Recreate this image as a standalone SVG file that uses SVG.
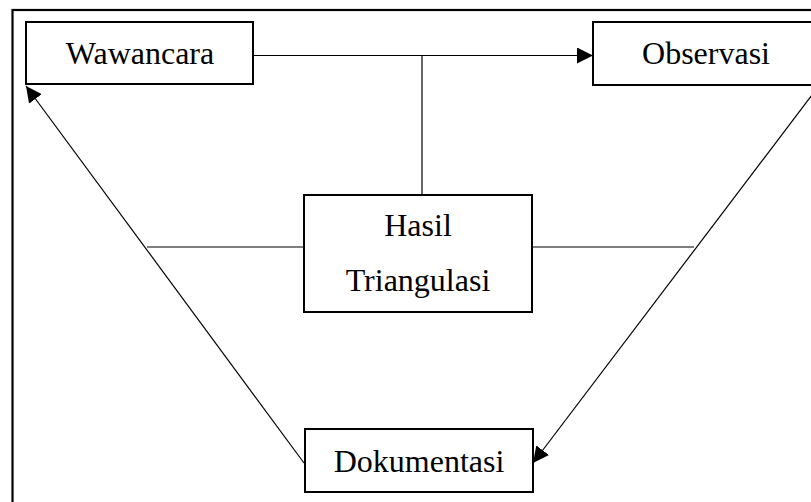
<svg xmlns="http://www.w3.org/2000/svg" width="811" height="502" viewBox="0 0 811 502">
  <defs>
    <style>
      .frame { fill: none; stroke: #000; stroke-width: 2.2; }
      .box { fill: #fff; stroke: #000; stroke-width: 2; }
      .line { fill: none; stroke: #000; stroke-width: 1.2; }
      .label { font-family: "Liberation Serif", "Times New Roman", serif; font-size: 32px; fill: #000; text-anchor: middle; }
    </style>
    <marker id="arrow" viewBox="0 0 16 16" refX="16" refY="8" markerWidth="16" markerHeight="16" markerUnits="userSpaceOnUse" orient="auto">
      <path d="M0,0 L16,8 L0,16 Z" fill="#000"/>
    </marker>
  </defs>
  <rect width="811" height="502" fill="#fff"/>
  <!-- outer border (only top and left edges fall inside the canvas) -->
  <rect class="frame" x="12.5" y="10" width="820" height="520"/>

  <g id="connectors">
    <line class="line" x1="253" y1="55.5" x2="593" y2="55.5" marker-end="url(#arrow)"/>
    <line class="line" x1="422" y1="55.5" x2="422" y2="195"/>
    <line class="line" x1="147" y1="247" x2="304" y2="247"/>
    <line class="line" x1="532" y1="247" x2="694" y2="247"/>
    <line class="line" x1="812" y1="95" x2="533" y2="463" marker-end="url(#arrow)"/>
    <line class="line" x1="304" y1="463" x2="26" y2="86" marker-end="url(#arrow)"/>
  </g>

  <g id="wawancara">
    <rect class="box" x="26" y="22" width="227" height="62"/>
    <text class="label" x="140" y="64">Wawancara</text>
  </g>
  <g id="observasi">
    <rect class="box" x="593" y="22" width="230" height="63"/>
    <text class="label" x="706" y="64">Observasi</text>
  </g>
  <g id="hasil-triangulasi">
    <rect class="box" x="304" y="195" width="228" height="117"/>
    <text class="label" x="418" y="236">Hasil</text>
    <text class="label" x="418" y="291">Triangulasi</text>
  </g>
  <g id="dokumentasi">
    <rect class="box" x="305" y="429" width="228" height="63"/>
    <text class="label" x="419" y="472">Dokumentasi</text>
  </g>
</svg>
